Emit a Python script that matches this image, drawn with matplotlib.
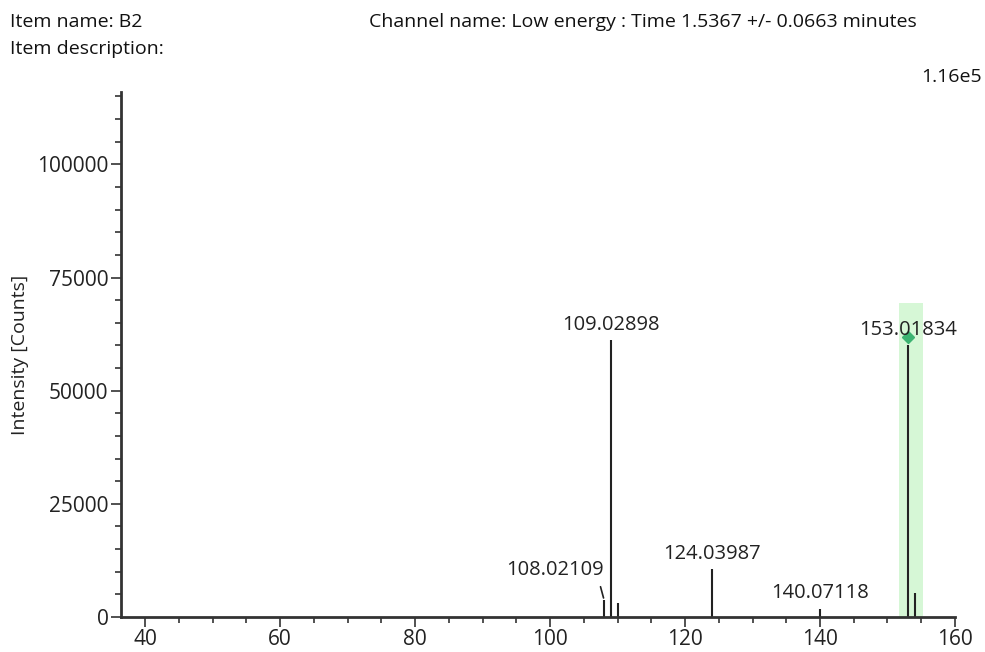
import matplotlib
matplotlib.use("Agg")
import matplotlib.pyplot as plt
from matplotlib.ticker import MultipleLocator

plt.rcParams['font.family'] = ['Open Sans', 'DejaVu Sans']

# peaks (m/z, intensity)
mz = [108.02109, 109.02898, 110.03, 124.03987, 140.07118, 153.01834, 154.02]
intensity = [3700, 61200, 3000, 10500, 1800, 60000, 5300]
labelled = {108.02109: "108.02109", 109.02898: "109.02898", 124.03987: "124.03987",
            140.07118: "140.07118", 153.01834: "153.01834"}

x_min, x_max = 36.4, 160
y_max = 116000
highlight = (151.7, 155.3, 69300)

fig = plt.figure(figsize=(9.85, 6.52), dpi=100)
ax = fig.add_axes([0.1228, 0.0537, 0.8467, 0.8053])

ax.axvspan(highlight[0], highlight[1], ymax=highlight[2] / y_max,
           color="#ccf5cc", alpha=0.8, lw=0, zorder=0)
ax.vlines(mz, 0, intensity, color="#222222", lw=1.5, zorder=2)
ax.plot([153.01834], [intensity[5] + 1800], marker="D", ms=6, color="#3cb371", zorder=3)

for m, h in zip(mz, intensity):
    if m in labelled:
        if m == 108.02109:
            ax.annotate(labelled[m], xy=(m - 0.1, h + 500), xytext=(0, 13),
                        textcoords="offset points",
                        ha="right", va="bottom", fontsize=14.5, color="#222222",
                        arrowprops=dict(arrowstyle="-", color="#222222", lw=1.2,
                                        relpos=(0.95, 0), shrinkA=3, shrinkB=0))
        else:
            ax.text(m, h + 1200, labelled[m], ha="center", va="bottom",
                    fontsize=14.5, color="#222222")

ax.set_xlim(x_min, x_max)
ax.set_ylim(0, y_max)
ax.xaxis.set_major_locator(MultipleLocator(20))
ax.xaxis.set_minor_locator(MultipleLocator(5))
ax.yaxis.set_major_locator(MultipleLocator(25000))
ax.yaxis.set_minor_locator(MultipleLocator(5000))
ax.spines['top'].set_visible(False)
ax.spines['right'].set_visible(False)
for s in ['left', 'bottom']:
    ax.spines[s].set_linewidth(2)
    ax.spines[s].set_color("#333333")
ax.tick_params(which='major', length=7, width=1.2, color="#333333",
               labelsize=15, labelcolor="#222222", pad=2)
ax.tick_params(which='minor', length=4, width=1.2, color="#333333")
ax.set_ylabel("Intensity [Counts]", fontsize=14, color="#222222", labelpad=6)

fig.text(0.010, 0.980, "Item name: B2", fontsize=14, va="top", color="#111111")
fig.text(0.010, 0.939, "Item description:", fontsize=14, va="top", color="#111111")
fig.text(0.375, 0.980, "Channel name: Low energy : Time 1.5367 +/- 0.0663 minutes",
         fontsize=14, va="top", color="#111111")
fig.text(0.997, 0.896, "1.16e5", fontsize=14, va="top", ha="right", color="#111111")

fig.savefig("out.png", dpi=100)
